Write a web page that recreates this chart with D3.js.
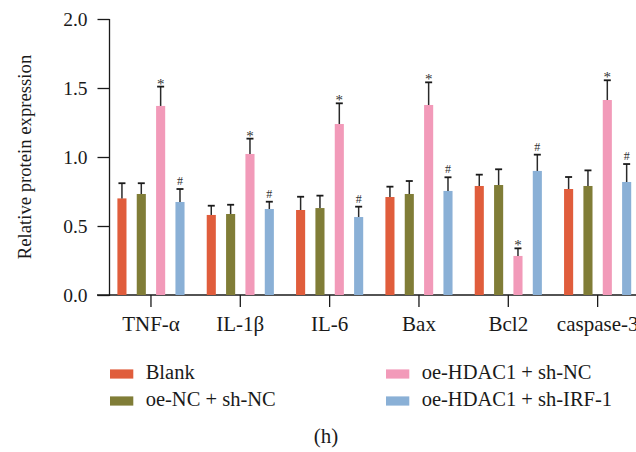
<!DOCTYPE html>
<html>
<head>
<meta charset="utf-8">
<script src="https://cdn.jsdelivr.net/npm/d3@7"></script>
<style>
  html, body { margin: 0; padding: 0; background: #fff; }
  svg { display: block; }
  text { font-family: "Liberation Serif", "Times New Roman", serif; fill: #1a1a1a; }
</style>
</head>
<body>
<svg id="chart" width="636" height="452"></svg>
<script>
// Proteins on the x axis
const categories = ["TNF-\u03b1", "IL-1\u03b2", "IL-6", "Bax", "Bcl2", "caspase-3"];

// Treatment groups
const groups = ["Blank", "oe-NC + sh-NC", "oe-HDAC1 + sh-NC", "oe-HDAC1 + sh-IRF-1"];
const groupColors = ["#e05d3c", "#807d37", "#f29ab9", "#8ab0d6"];

// Mean relative expression per group (one value per protein)
const blankMean   = [0.70, 0.58, 0.616, 0.71, 0.79, 0.768];
const oeNcMean    = [0.732, 0.587, 0.63, 0.732, 0.797, 0.79];
const oeHdacMean  = [1.37, 1.022, 1.239, 1.377, 0.283, 1.413];
const shIrfMean   = [0.674, 0.623, 0.565, 0.754, 0.899, 0.819];

// Upper end of the error bar (mean + SD)
const blankUpper  = [0.81, 0.647, 0.712, 0.785, 0.872, 0.855];
const oeNcUpper   = [0.81, 0.654, 0.72, 0.826, 0.911, 0.903];
const oeHdacUpper = [1.51, 1.133, 1.389, 1.541, 0.338, 1.556];
const shIrfUpper  = [0.768, 0.676, 0.64, 0.853, 1.017, 0.949];

// Significance marks
const oeHdacMark  = ["*", "*", "*", "*", "*", "*"];
const shIrfMark   = ["#", "#", "#", "#", "#", "#"];

const yTicks = [0, 0.5, 1.0, 1.5, 2.0];

const means  = [blankMean, oeNcMean, oeHdacMean, shIrfMean];
const uppers = [blankUpper, oeNcUpper, oeHdacUpper, shIrfUpper];
const marks  = [null, null, oeHdacMark, shIrfMark];

const rows = [];
categories.forEach((c, i) => {
  groups.forEach((g, j) => {
    rows.push({ cat: c, group: g, gi: j, value: means[j][i], upper: uppers[j][i], mark: marks[j] ? marks[j][i] : null });
  });
});

const svg = d3.select("#chart");
const plotTop = 19, plotBottom = 295, axisX = 109.5;

const y = d3.scaleLinear().domain([0, 2]).range([plotBottom, plotTop]);
const x = d3.scaleBand().domain(categories).range([106.3, 642.3]).padding(0);
const xInner = d3.scaleBand().domain(groups).range([-38.6, 38.6]).paddingInner(0.53).paddingOuter(0.26);

// Y axis
const yAxis = svg.append("g")
  .attr("transform", `translate(${axisX},0)`)
  .call(d3.axisLeft(y).tickValues(yTicks).tickFormat(d3.format(".1f")).tickSize(12).tickSizeOuter(0));
yAxis.select(".domain").attr("stroke", "#1a1a1a").attr("stroke-width", 1.3)
  .attr("d", `M0,${plotTop}V${plotBottom + 1}`);
yAxis.selectAll(".tick line").attr("stroke", "#1a1a1a").attr("stroke-width", 1.3);
yAxis.selectAll(".tick text").attr("font-size", 19.5).attr("x", -22).style("font-family", "Liberation Serif").attr("fill", "#1a1a1a");

// X axis
const xAxis = svg.append("g")
  .attr("transform", `translate(0,${plotBottom})`)
  .call(d3.axisBottom(x).tickSize(12).tickSizeOuter(0));
xAxis.select(".domain").attr("stroke", "#1a1a1a").attr("stroke-width", 1.3)
  .attr("d", `M${axisX - 12.5},0H636`);
xAxis.selectAll(".tick line").attr("stroke", "#1a1a1a").attr("stroke-width", 1.3);
xAxis.selectAll(".tick text").attr("font-size", 21).attr("y", 35.5).attr("dy", 0).style("font-family", "Liberation Serif").attr("fill", "#1a1a1a");

// Bars
const barG = svg.append("g");
const bw = xInner.bandwidth();
barG.selectAll("rect.bar").data(rows).join("rect")
  .attr("class", "bar")
  .attr("x", d => x(d.cat) + x.bandwidth() / 2 + xInner(d.group))
  .attr("y", d => y(d.value))
  .attr("width", bw)
  .attr("height", d => y(0) - y(d.value))
  .attr("fill", d => groupColors[d.gi]);

// Error bars
const cx = d => x(d.cat) + x.bandwidth() / 2 + xInner(d.group) + bw / 2;
barG.selectAll("line.err").data(rows).join("line")
  .attr("class", "err")
  .attr("x1", cx).attr("x2", cx)
  .attr("y1", d => y(d.value)).attr("y2", d => y(d.upper))
  .attr("stroke", "#2a2a2a").attr("stroke-width", 1.5);
barG.selectAll("line.cap").data(rows).join("line")
  .attr("class", "cap")
  .attr("x1", d => cx(d) - 3.5).attr("x2", d => cx(d) + 3.5)
  .attr("y1", d => y(d.upper)).attr("y2", d => y(d.upper))
  .attr("stroke", "#1a1a1a").attr("stroke-width", 1.8);

// Significance marks
barG.selectAll("text.mark").data(rows.filter(d => d.mark)).join("text")
  .attr("class", "mark")
  .attr("x", cx)
  .attr("y", d => y(d.upper) - (d.mark === "*" ? -2 : 4))
  .attr("text-anchor", "middle")
  .attr("font-size", d => d.mark === "*" ? 15 : 12)
  .style("fill", "#333")
  .text(d => d.mark);

// Y axis title
svg.append("text")
  .attr("transform", `translate(24,157) rotate(-90)`)
  .attr("text-anchor", "middle")
  .attr("dominant-baseline", "central")
  .attr("font-size", 18.7)
  .text("Relative protein expression");

// Legend
const legendPos = [[110, 374], [110, 401], [386, 374], [386, 401]];
const leg = svg.append("g").selectAll("g").data(groups).join("g")
  .attr("transform", (d, i) => `translate(${legendPos[i][0]},${legendPos[i][1]})`);
leg.append("rect").attr("x", 0).attr("y", -4.6).attr("width", 23.3).attr("height", 9.2)
  .attr("fill", (d, i) => groupColors[i]);
leg.append("text").attr("x", 35.7).attr("y", 4.8).attr("font-size", 20.5).text(d => d);

// Panel label
svg.append("text")
  .attr("x", 326).attr("y", 443)
  .attr("text-anchor", "middle")
  .attr("font-size", 21)
  .text("(h)");
</script>
</body>
</html>
